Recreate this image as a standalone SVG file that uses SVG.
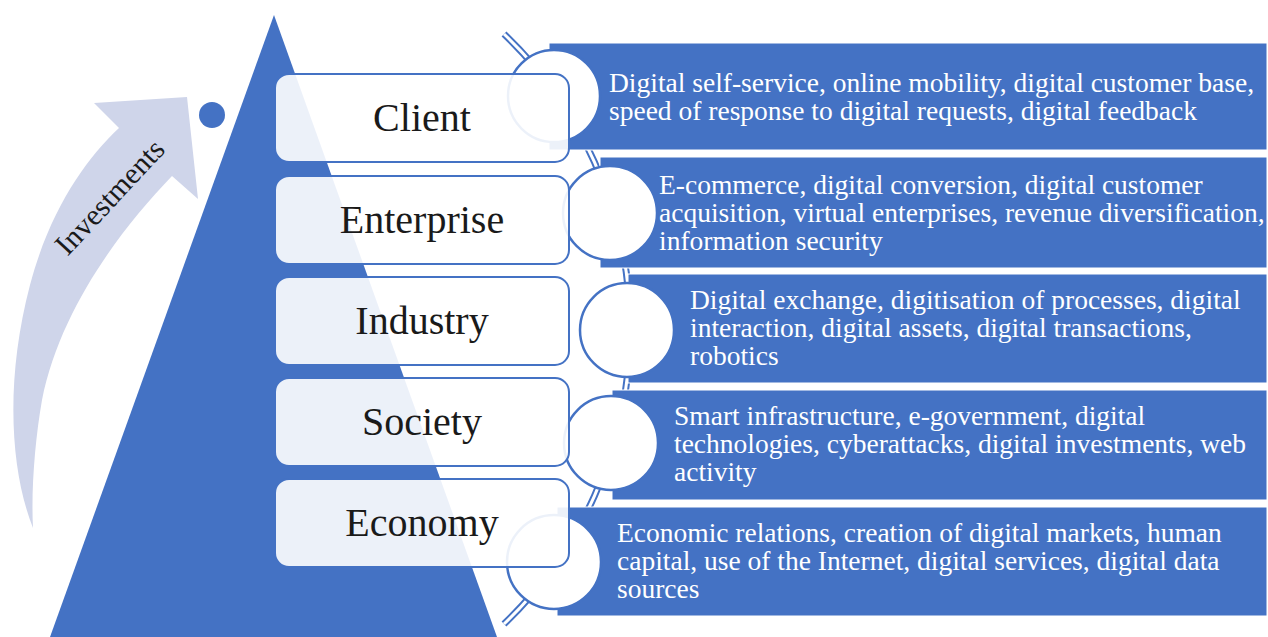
<svg xmlns="http://www.w3.org/2000/svg" width="1268" height="637" viewBox="0 0 1268 637">
  <style>
    .band { fill: #4472C4; stroke: #FFFFFF; stroke-width: 1; }
    .disc { fill: #FFFFFF; stroke: #4472C4; stroke-width: 2.5; }
    .tier { fill: #FFFFFF; fill-opacity: 0.9; stroke: #4472C4; stroke-width: 2; }
    .tier-label { font-family: "Liberation Serif", "Times New Roman", serif; font-size: 40px; fill: #1a1a1a; text-anchor: middle; }
    .detail { font-family: "Liberation Serif", "Times New Roman", serif; font-size: 27.5px; fill: #FFFFFF; }
    .rail-outer { fill: none; stroke: #4472C4; stroke-width: 7; }
    .rail-inner { fill: none; stroke: #FFFFFF; stroke-width: 3; }
  </style>

  <!-- pyramid backdrop -->
  <polygon id="pyramid" points="274,15 50,637 497,637" fill="#4472C4"/>

  <!-- curved investments arrow -->
  <g id="investments">
    <path d="M33,528 C10,470 5,380 30,285 C50,210 85,160 119,128 L94,103 L187,97 L198,199 L172,176 C120,230 60,310 42,400 C35,440 31,490 33,528 Z" fill="#CFD5EA"/>
    <text transform="translate(112,199) rotate(-47)" font-family="Liberation Serif, Times New Roman, serif" font-size="30" fill="#1a1a1a" text-anchor="middle" dominant-baseline="middle">Investments</text>
  </g>
  <circle id="marker-dot" cx="212" cy="115" r="13" fill="#4472C4"/>

  <!-- connector rail through the circles -->
  <g id="connectors">
    <path class="rail-outer" d="M504,34 A408,408 0 0 1 504,624"/>
    <path class="rail-inner" d="M504,34 A408,408 0 0 1 504,624"/>
  </g>

  <!-- detail bands -->
  <g id="client-detail">
    <rect class="band" x="549" y="43" width="718" height="107"/>
    <text class="detail" x="609" y="92">Digital self-service, online mobility, digital customer base,</text>
    <text class="detail" x="609" y="120">speed of response to digital requests, digital feedback</text>
  </g>
  <g id="enterprise-detail">
    <rect class="band" x="600" y="157" width="667" height="111"/>
    <text class="detail" x="659" y="194">E-commerce, digital conversion, digital customer</text>
    <text class="detail" x="659" y="222">acquisition, virtual enterprises, revenue diversification,</text>
    <text class="detail" x="659" y="250">information security</text>
  </g>
  <g id="industry-detail">
    <rect class="band" x="628" y="274" width="639" height="109"/>
    <text class="detail" x="690" y="309">Digital exchange, digitisation of processes, digital</text>
    <text class="detail" x="690" y="337">interaction, digital assets, digital transactions,</text>
    <text class="detail" x="690" y="365">robotics</text>
  </g>
  <g id="society-detail">
    <rect class="band" x="612" y="390" width="655" height="110"/>
    <text class="detail" x="674" y="425">Smart infrastructure, e-government, digital</text>
    <text class="detail" x="674" y="453">technologies, cyberattacks, digital investments, web</text>
    <text class="detail" x="674" y="481">activity</text>
  </g>
  <g id="economy-detail">
    <rect class="band" x="557" y="507" width="710" height="109"/>
    <text class="detail" x="617" y="542">Economic relations, creation of digital markets, human</text>
    <text class="detail" x="617" y="570">capital, use of the Internet, digital services, digital data</text>
    <text class="detail" x="617" y="598">sources</text>
  </g>

  <!-- circles on the rail -->
  <g id="circles">
    <circle class="disc" cx="554" cy="96" r="46"/>
    <circle class="disc" cx="610" cy="213" r="47"/>
    <circle class="disc" cx="627" cy="330" r="47"/>
    <circle class="disc" cx="611" cy="443" r="47"/>
    <circle class="disc" cx="554" cy="562" r="47"/>
  </g>

  <!-- pyramid tiers -->
  <g id="client">
    <rect class="tier" x="275" y="74" width="294" height="88" rx="14"/>
    <text class="tier-label" x="422" y="131">Client</text>
  </g>
  <g id="enterprise">
    <rect class="tier" x="275" y="176" width="294" height="88" rx="14"/>
    <text class="tier-label" x="422" y="233">Enterprise</text>
  </g>
  <g id="industry">
    <rect class="tier" x="275" y="277" width="294" height="88" rx="14"/>
    <text class="tier-label" x="422" y="334">Industry</text>
  </g>
  <g id="society">
    <rect class="tier" x="275" y="378" width="294" height="88" rx="14"/>
    <text class="tier-label" x="422" y="435">Society</text>
  </g>
  <g id="economy">
    <rect class="tier" x="275" y="479" width="294" height="88" rx="14"/>
    <text class="tier-label" x="422" y="536">Economy</text>
  </g>
</svg>
